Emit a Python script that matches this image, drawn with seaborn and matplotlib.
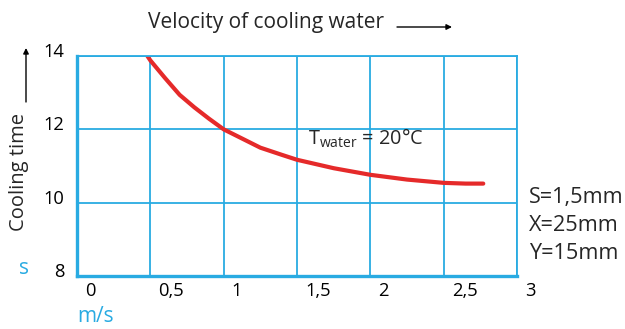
import numpy as np
import pandas as pd
import seaborn as sns
import matplotlib.pyplot as plt
import matplotlib.transforms as mtransforms

# Cooling time versus velocity of the cooling water
velocity = [0.48, 0.5, 0.6, 0.7, 0.8, 0.9, 1.0, 1.1, 1.25, 1.4, 1.5, 1.75,
            2.0, 2.25, 2.5, 2.65, 2.77]
cooling_time = [14.0, 13.88, 13.4, 12.94, 12.6, 12.29, 12.0, 11.8, 11.5, 11.3, 11.17, 10.94,
                10.76, 10.63, 10.54, 10.52, 10.52]

x_ticks = [0, 0.5, 1, 1.5, 2, 2.5, 3]
x_tick_labels = ["0", "0,5", "1", "1,5", "2", "2,5", "3"]
y_ticks = [8, 10, 12, 14]
y_tick_labels = ["8", "10", "12", "14"]
part_params = ["S=1,5mm", "X=25mm", "Y=15mm"]

BLUE = "#29abe2"
RED = "#e52a2a"
TICK_FS = 13.2
TEXT_FS = 15

sns.set_style("white")
plt.rcParams['font.family'] = ['Open Sans', 'DejaVu Sans']
plt.rcParams['mathtext.fontset'] = 'custom'
plt.rcParams['mathtext.rm'] = 'Open Sans'
plt.rcParams['mathtext.it'] = 'Open Sans'

fig = plt.figure(figsize=(6.25, 3.29), dpi=100)
ax = fig.add_axes([77 / 625, 53 / 329, 440 / 625, 220 / 329])

df = pd.DataFrame({"velocity": velocity, "cooling_time": cooling_time})
sns.lineplot(data=df, x="velocity", y="cooling_time", ax=ax,
             color=RED, lw=3.0, zorder=3)

ax.set_xlim(0, 3)
ax.set_ylim(8, 14)
ax.set_xticks(x_ticks)
ax.set_xticklabels(x_tick_labels)
ax.set_yticks(y_ticks)
ax.set_yticklabels(y_tick_labels)
ax.set_xlabel("")
ax.set_ylabel("")
ax.grid(True, color=BLUE, lw=1.3)
ax.set_axisbelow(True)

for side, spine in ax.spines.items():
    spine.set_visible(True)
    spine.set_color(BLUE)
    spine.set_linewidth(2.4 if side in ("left", "bottom") else 1.3)
    spine.set_zorder(4)

ax.tick_params(axis="both", length=0, labelsize=TICK_FS, labelcolor="black")
ax.tick_params(axis="x", pad=4)
ax.tick_params(axis="y", pad=9)

# labels sit slightly right of / above their grid lines
dx = mtransforms.ScaledTranslation(8 / 100, 0, fig.dpi_scale_trans)
dy = mtransforms.ScaledTranslation(0, 6 / 100, fig.dpi_scale_trans)
for lbl in ax.get_xticklabels():
    lbl.set_horizontalalignment("left")
    lbl.set_transform(lbl.get_transform() + dx)
for lbl in ax.get_yticklabels():
    lbl.set_transform(lbl.get_transform() + dy)

# annotation inside the plot
ax.text(1.575, 11.58, r"T$_{\mathrm{water}}$ = 20°C", fontsize=14.3,
        ha="left", va="baseline", zorder=5)

# title with arrow
fig.text(148 / 625, 1 - 28 / 329, "Velocity of cooling water", fontsize=TEXT_FS,
         ha="left", va="baseline")
fig.add_artist(plt.Annotation("", xy=(452 / 625, 1 - 27 / 329), xycoords="figure fraction",
                              xytext=(397 / 625, 1 - 27 / 329), textcoords="figure fraction",
                              arrowprops=dict(arrowstyle="-|>", color="black", lw=1,
                                              mutation_scale=8, shrinkA=0, shrinkB=0)))

# y axis title with arrow
fig.text(19 / 625, 1 - 172 / 329, "Cooling time", fontsize=14.5, rotation=90,
         ha="center", va="center")
fig.add_artist(plt.Annotation("", xy=(26 / 625, 1 - 48 / 329), xycoords="figure fraction",
                              xytext=(26 / 625, 1 - 102 / 329), textcoords="figure fraction",
                              arrowprops=dict(arrowstyle="-|>", color="black", lw=1,
                                              mutation_scale=8, shrinkA=0, shrinkB=0)))

# units
fig.text(24 / 625, 1 - 268 / 329, "s", fontsize=15, color=BLUE, ha="center", va="center")
fig.text(77 / 625, 1 - 317 / 329, "m/s", fontsize=15, color=BLUE, ha="left", va="center")

# part parameters
for i, txt in enumerate(part_params):
    fig.text(529 / 625, 1 - (203 + 28 * i) / 329, txt, fontsize=15.6,
             ha="left", va="baseline")

fig.savefig("out.png", dpi=100)
